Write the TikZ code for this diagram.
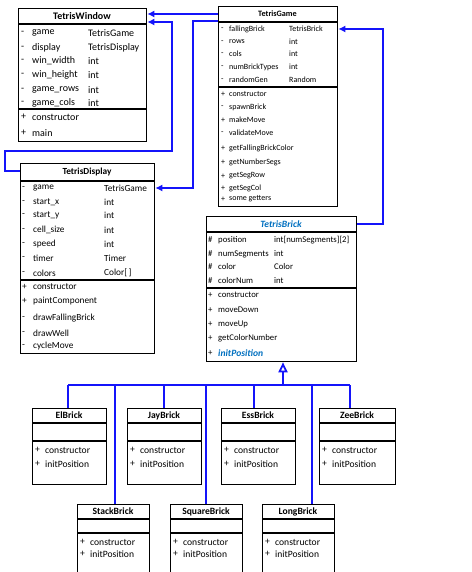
\documentclass[tikz,border=0pt]{standalone}
\usepackage{fontspec}
\setmainfont{Carlito}
\usetikzlibrary{arrows.meta}
\definecolor{conblue}{RGB}{20,20,250}
\definecolor{titleblue}{RGB}{0,112,192}
\tikzset{
  umlbox/.style={draw=black, line width=1.3pt, fill=white, inner sep=0pt, anchor=north west},
  sepline/.style={draw=black, line width=1.1pt},
  conn/.style={draw=conblue, line width=1.8pt},
  headA/.style={-{Latex[length=7pt,width=7pt]}},
  inh/.style={-{Triangle[open,length=10pt,width=9pt,fill=white]}},
  txt/.style={anchor=west, inner sep=0pt},
  ttl/.style={anchor=center, inner sep=0pt},
  fW/.style={font=\fontsize{10}{12}\selectfont},
  fG/.style={font=\fontsize{8}{10}\selectfont},
  fD/.style={font=\fontsize{9.3}{11}\selectfont},
  fB/.style={font=\fontsize{8.7}{10}\selectfont},
  fS/.style={font=\fontsize{9.6}{11}\selectfont},
  tW/.style={font=\fontsize{10}{12}\selectfont\bfseries},
  tG/.style={font=\fontsize{8.2}{10}\selectfont\bfseries},
  tD/.style={font=\fontsize{9.3}{11}\selectfont\bfseries},
  tB/.style={font=\fontsize{9.6}{11}\selectfont\bfseries\itshape, text=titleblue},
  tS/.style={font=\fontsize{9.6}{11}\selectfont\bfseries},
}
\begin{document}
\begin{tikzpicture}[x=1pt,y=-1pt]
\clip (0,0) rectangle (471,572);
\fill[white] (0,0) rectangle (471,572);

% ---------- boxes ----------
\node[umlbox, minimum width=128pt, minimum height=133pt] (win) at (18,8) {};
\node[umlbox, minimum width=119pt, minimum height=200pt] (game) at (218,6) {};
\node[umlbox, minimum width=134pt, minimum height=190pt] (disp) at (20,163) {};
\node[umlbox, minimum width=150pt, minimum height=145pt] (brick) at (206,216) {};
\node[umlbox, minimum width=74pt, minimum height=76pt] (el) at (32,408) {};
\node[umlbox, minimum width=74pt, minimum height=76pt] (jay) at (127,408) {};
\node[umlbox, minimum width=74pt, minimum height=76pt] (ess) at (221,408) {};
\node[umlbox, minimum width=76pt, minimum height=76pt] (zee) at (319,408) {};
\node[umlbox, minimum width=72pt, minimum height=80pt] (stack) at (77,504) {};
\node[umlbox, minimum width=72pt, minimum height=80pt] (square) at (170,504) {};
\node[umlbox, minimum width=72pt, minimum height=80pt] (long) at (262,504) {};

% ---------- separators ----------
\foreach \b/\ya/\yb in {win/24/109, game/22/87, disp/181/280, brick/232/288,
  el/423/441, jay/423/441, ess/423/441, zee/423/441,
  stack/519/533, square/519/533, long/519/533}{
  \draw[sepline] (\b.west |- 0,\ya) -- (\b.east |- 0,\ya);
  \draw[sepline] (\b.west |- 0,\yb) -- (\b.east |- 0,\yb);
}

% ---------- TetrisWindow ----------
\node[ttl, tW] (winT) at (82,16) {TetrisWindow};
\foreach \i/\m/\n/\t/\y in {1/-/game/TetrisGame/33, 2/-/display/TetrisDisplay/48,
  3/-/win\_width/int/61, 4/-/win\_height/int/75, 5/-/game\_rows/int/90, 6/-/game\_cols/int/103}{
  \node[txt, fW] (winM\i) at (21,\y) {\m};
  \node[txt, fW] (winN\i) at (32,\y) {\n};
  \node[txt, fW] (winY\i) at (88,\y) {\t};
}
\foreach \i/\m/\n/\y in {1/+/constructor/117, 2/+/main/133}{
  \node[txt, fW] (winPm\i) at (21,\y) {\m};
  \node[txt, fW] (winPn\i) at (32,\y) {\n};
}

% ---------- TetrisGame ----------
\node[ttl, tG] (gameT) at (277.5,14) {TetrisGame};
\foreach \i/\m/\n/\t/\y in {1/-/fallingBrick/TetrisBrick/29, 2/-/rows/int/42,
  3/-/cols/int/54, 4/-/numBrickTypes/int/67, 5/-/randomGen/Random/80}{
  \node[txt, fG] (gameM\i) at (221,\y) {\m};
  \node[txt, fG] (gameN\i) at (229,\y) {\n};
  \node[txt, fG] (gameY\i) at (289,\y) {\t};
}
\foreach \i/\m/\n/\y in {1/+/constructor/94, 2/-/spawnBrick/107, 3/+/makeMove/120,
  4/-/validateMove/133, 5/+/getFallingBrickColor/148, 6/+/getNumberSegs/162,
  7/+/getSegRow/176, 8/+/getSegCol/188, 9/+/some getters/199}{
  \node[txt, fG] (gamePm\i) at (221,\y) {\m};
  \node[txt, fG] (gamePn\i) at (229,\y) {\n};
}

% ---------- TetrisDisplay ----------
\node[ttl, tD] (dispT) at (87,172) {TetrisDisplay};
\foreach \i/\m/\n/\t/\y in {1/-/game/TetrisGame/188, 2/-/start\_x/int/202,
  3/-/start\_y/int/215, 4/-/cell\_size/int/230, 5/-/speed/int/244,
  6/-/timer/Timer/258, 7/-/colors/Color[\,]/273}{
  \node[txt, fD] (dispM\i) at (22,\y) {\m};
  \node[txt, fD] (dispN\i) at (33,\y) {\n};
  \node[txt, fD] (dispY\i) at (104,\y) {\t};
}
\foreach \i/\m/\n/\y in {1/+/constructor/287, 2/+/paintComponent/301,
  3/-/drawFallingBrick/318, 4/-/drawWell/333, 5/-/cycleMove/346}{
  \node[txt, fD] (dispPm\i) at (22,\y) {\m};
  \node[txt, fD] (dispPn\i) at (33,\y) {\n};
}

% ---------- TetrisBrick ----------
\node[ttl, tB] (brickT) at (281,224) {TetrisBrick};
\foreach \i/\n/\t/\y in {1/position/int[numSegments][2]/240, 2/numSegments/int/254,
  3/color/Color/267, 4/colorNum/int/281}{
  \node[txt, fB] (brickM\i) at (208,\y) {\#};
  \node[txt, fB] (brickN\i) at (218,\y) {\n};
  \node[txt, fB] (brickY\i) at (274,\y) {\t};
}
\foreach \i/\n/\y in {1/constructor/295, 2/moveDown/310, 3/moveUp/324, 4/getColorNumber/338}{
  \node[txt, fB] (brickPm\i) at (208,\y) {+};
  \node[txt, fB] (brickPn\i) at (218,\y) {\n};
}
\node[txt, fB] (brickPm5) at (208,353) {+};
\node[txt, tB] (brickPn5) at (218,353) {initPosition};

% ---------- sub bricks ----------
\foreach \b/\name/\xl/\xc/\yt/\ya/\yb in {el/ElBrick/32/69/415.5/450/464,
  jay/JayBrick/127/164/415.5/450/464, ess/EssBrick/221/258/415.5/450/464,
  zee/ZeeBrick/319/357/415.5/450/464, stack/StackBrick/77/113/511.5/542/554,
  square/SquareBrick/170/206/511.5/542/554, long/LongBrick/262/298/511.5/542/554}{
  \node[ttl, tS] (\b T) at (\xc,\yt) {\name};
  \node[txt, fS] (\b Am) at (\xl+3,\ya) {+};
  \node[txt, fS] (\b An) at (\xl+13,\ya) {constructor};
  \node[txt, fS] (\b Bm) at (\xl+3,\yb) {+};
  \node[txt, fS] (\b Bn) at (\xl+13,\yb) {initPosition};
}

% ---------- connectors ----------
\draw[conn, headA] (game.west |- 0,14) -- (win.east |- 0,14);
\draw[conn, headA] (game.west |- 0,21) -- (193,21) -- (193,188) -- (disp.east |- 0,188);
\draw[conn, headA] (disp.west |- 0,171) -- (5,171) -- (5,151) -- (172,151) -- (172,22) -- (win.east |- 0,22);
\draw[conn, headA] (brick.east |- 0,224) -- (383,224) -- (383,29) -- (game.east |- 0,29);

\coordinate (bus) at (283,385);
\draw[conn, inh] (bus) -- (bus |- brick.south);
\draw[conn] (68,385) -- (350,385);
\draw[conn] (68,385) -- (68,385 |- el.north);
\draw[conn] (164,385) -- (164,385 |- jay.north);
\draw[conn] (254,385) -- (254,385 |- ess.north);
\draw[conn] (350,385) -- (350,385 |- zee.north);
\draw[conn] (115,385) -- (115,385 |- stack.north);
\draw[conn] (206,385) -- (206,385 |- square.north);
\draw[conn] (312,385) -- (312,385 |- long.north);
\end{tikzpicture}
\end{document}
